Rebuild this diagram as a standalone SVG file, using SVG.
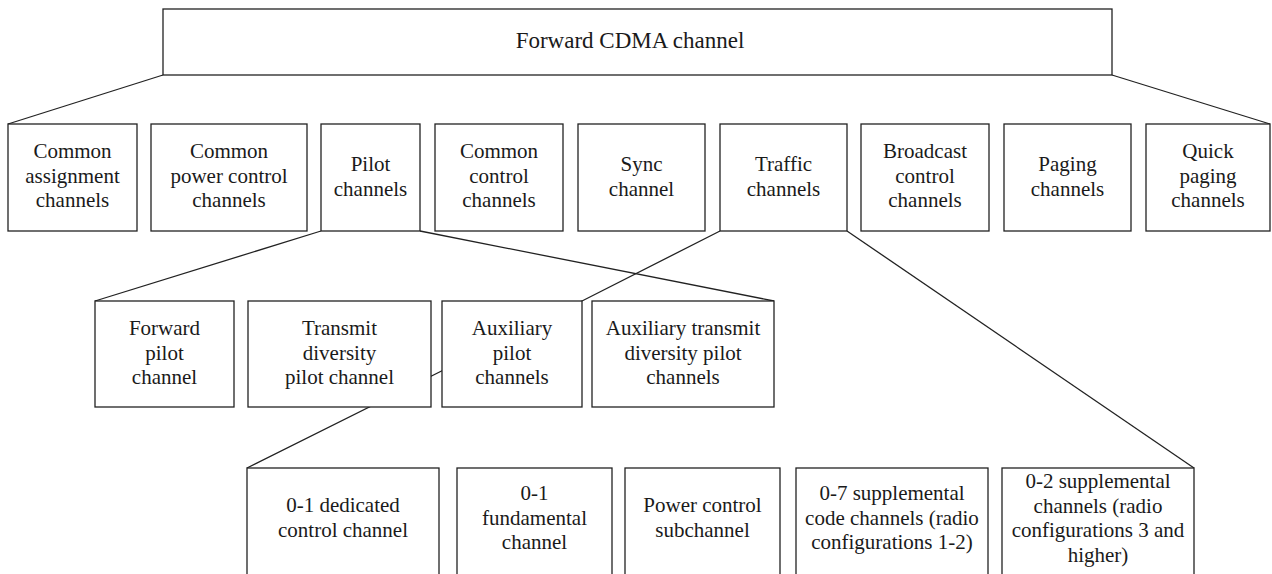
<svg xmlns="http://www.w3.org/2000/svg" width="1272" height="574" viewBox="0 0 1272 574">
<style>
.b{fill:#fff;stroke:#222;stroke-width:1.3}
.c{fill:none;stroke:#222;stroke-width:1.3}
text{font-family:'Liberation Serif','Times New Roman','DejaVu Serif',serif;font-size:21px;fill:#1a1a1a;text-anchor:middle}
.t{font-size:23px}
</style>
<rect width="1272" height="574" fill="#fff"/>
<g id="connectors">
<line class="c" x1="163" y1="75" x2="8" y2="124"/>
<line class="c" x1="1112" y1="75" x2="1270" y2="124"/>
<line class="c" x1="321" y1="231" x2="95" y2="301"/>
<line class="c" x1="420" y1="231" x2="774" y2="301"/>
<polyline class="c" points="720,231 582,301 247,468"/>
<line class="c" x1="847" y1="231" x2="1194" y2="468"/>
</g>
<g id="forward-cdma">
<rect class="b" x="163" y="9" width="949" height="66"/>
<text class="t" x="630" y="48" font-family="Liberation Serif, serif">Forward CDMA channel</text>
</g>
<g id="common-assignment">
<rect class="b" x="8" y="124" width="129" height="107"/>
<text x="72.5" y="158">Common</text><text x="72.5" y="182.5">assignment</text><text x="72.5" y="207">channels</text>
</g>
<g id="common-power-control">
<rect class="b" x="151" y="124" width="156" height="107"/>
<text x="229" y="158">Common</text><text x="229" y="182.5">power control</text><text x="229" y="207">channels</text>
</g>
<g id="pilot">
<rect class="b" x="321" y="124" width="99" height="107"/>
<text x="370.5" y="171">Pilot</text><text x="370.5" y="195.5">channels</text>
</g>
<g id="common-control">
<rect class="b" x="435" y="124" width="128" height="107"/>
<text x="499" y="158">Common</text><text x="499" y="182.5">control</text><text x="499" y="207">channels</text>
</g>
<g id="sync">
<rect class="b" x="578" y="124" width="127" height="107"/>
<text x="641.5" y="171">Sync</text><text x="641.5" y="195.5">channel</text>
</g>
<g id="traffic">
<rect class="b" x="720" y="124" width="127" height="107"/>
<text x="783.5" y="171">Traffic</text><text x="783.5" y="195.5">channels</text>
</g>
<g id="broadcast-control">
<rect class="b" x="861" y="124" width="128" height="107"/>
<text x="925" y="158">Broadcast</text><text x="925" y="182.5">control</text><text x="925" y="207">channels</text>
</g>
<g id="paging">
<rect class="b" x="1004" y="124" width="127" height="107"/>
<text x="1067.5" y="171">Paging</text><text x="1067.5" y="195.5">channels</text>
</g>
<g id="quick-paging">
<rect class="b" x="1146" y="124" width="124" height="107"/>
<text x="1208" y="158">Quick</text><text x="1208" y="182.5">paging</text><text x="1208" y="207">channels</text>
</g>
<g id="forward-pilot">
<rect class="b" x="95" y="301" width="139" height="106"/>
<text x="164.5" y="335">Forward</text><text x="164.5" y="359.5">pilot</text><text x="164.5" y="384">channel</text>
</g>
<g id="transmit-diversity-pilot">
<rect class="b" x="248" y="301" width="183" height="106"/>
<text x="339.5" y="335">Transmit</text><text x="339.5" y="359.5">diversity</text><text x="339.5" y="384">pilot channel</text>
</g>
<g id="auxiliary-pilot">
<rect class="b" x="442" y="301" width="140" height="106"/>
<text x="512" y="335">Auxiliary</text><text x="512" y="359.5">pilot</text><text x="512" y="384">channels</text>
</g>
<g id="auxiliary-transmit-diversity-pilot">
<rect class="b" x="592" y="301" width="182" height="106"/>
<text x="683" y="335">Auxiliary transmit</text><text x="683" y="359.5">diversity pilot</text><text x="683" y="384">channels</text>
</g>
<g id="dedicated-control">
<rect class="b" x="247" y="468" width="192" height="130"/>
<text x="343" y="512">0-1 dedicated</text><text x="343" y="536.5">control channel</text>
</g>
<g id="fundamental">
<rect class="b" x="457" y="468" width="155" height="130"/>
<text x="534.5" y="500">0-1</text><text x="534.5" y="524.5">fundamental</text><text x="534.5" y="549">channel</text>
</g>
<g id="power-control-sub">
<rect class="b" x="625" y="468" width="155" height="130"/>
<text x="702.5" y="512">Power control</text><text x="702.5" y="536.5">subchannel</text>
</g>
<g id="supplemental-code">
<rect class="b" x="796" y="468" width="192" height="130"/>
<text x="892" y="500">0-7 supplemental</text><text x="892" y="524.5">code channels (radio</text><text x="892" y="549">configurations 1-2)</text>
</g>
<g id="supplemental">
<rect class="b" x="1002" y="468" width="192" height="130"/>
<text x="1098" y="488">0-2 supplemental</text><text x="1098" y="512.5">channels (radio</text><text x="1098" y="537">configurations 3 and</text><text x="1098" y="561.5">higher)</text>
</g>
</svg>
